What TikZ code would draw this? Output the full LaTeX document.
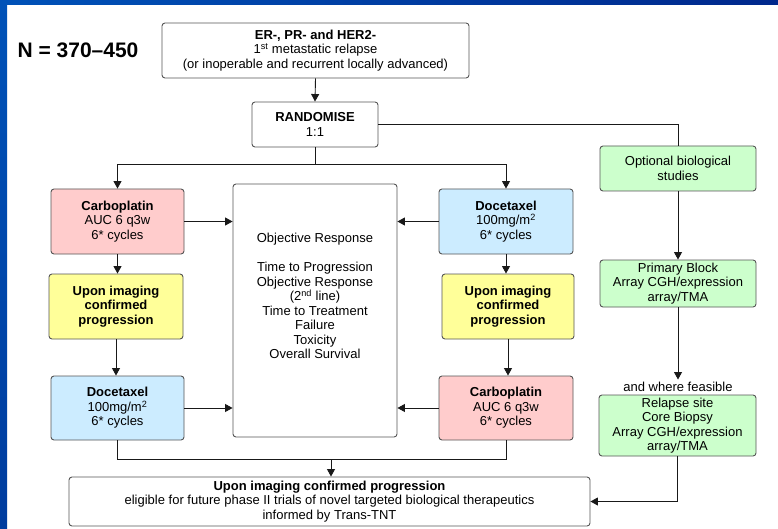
\documentclass[tikz,border=0pt]{standalone}
\usepackage{fontspec}
\setmainfont{Liberation Sans}
\usetikzlibrary{arrows.meta}
\definecolor{pinkc}{HTML}{FFCCCC}
\definecolor{bluec}{HTML}{CCECFF}
\definecolor{yellc}{HTML}{FFFF99}
\definecolor{greenc}{HTML}{CCFFCC}
\definecolor{boxline}{HTML}{555555}
\definecolor{bandA}{HTML}{0052B8}
\definecolor{bandB}{HTML}{00288C}
\definecolor{bandC}{HTML}{003C9E}
\begin{document}
\begin{tikzpicture}[x=1pt,y=-1pt,
  box/.style={draw=boxline, line width=0.9pt, rounded corners=3pt, align=center,
    inner sep=0pt, font=\fontsize{13}{14.5}\selectfont},
  txt/.style={align=center, inner sep=0pt, font=\fontsize{13}{14.5}\selectfont},
  conn/.style={draw=black!90, line width=0.9pt},
  arr/.style={-{Triangle[length=7.5pt,width=8pt]}}]
\useasboundingbox (0,0) rectangle (778,529);
\fill[white] (0,0) rectangle (778,529);
\shade[left color=bandA, right color=bandB] (0,0) rectangle (778,5);
\shade[top color=bandA, bottom color=bandC] (0,0) rectangle (7,529);

\node[inner sep=0pt, font=\fontsize{21}{24}\selectfont\bfseries] (N) at (78,50) {N = 370–450};

\node[box, fill=white, minimum width=307pt, minimum height=55pt] (top) at (315.5,50.5)
  {\textbf{ER-, PR- and HER2-}\\1\textsuperscript{st} metastatic relapse\\(or inoperable and recurrent locally advanced)};
\node[box, fill=white, minimum width=126pt, minimum height=45pt] (rand) at (315,124.5)
  {\textbf{RANDOMISE}\\1:1};

\node[box, fill=pinkc, minimum width=133pt, minimum height=65pt] (carbo1) at (117.5,221.5)
  {\textbf{Carboplatin}\\AUC 6 q3w\\6* cycles};
\node[box, fill=bluec, minimum width=134pt, minimum height=65pt] (doce1) at (506,221.5)
  {\textbf{Docetaxel}\\100mg/m\textsuperscript{2}\\6* cycles};
\node[box, fill=yellc, minimum width=134pt, minimum height=65pt] (yel1) at (116,306.5)
  {\textbf{Upon imaging}\\\textbf{confirmed}\\\textbf{progression}};
\node[box, fill=yellc, minimum width=132pt, minimum height=65pt] (yel2) at (508,306.5)
  {\textbf{Upon imaging}\\\textbf{confirmed}\\\textbf{progression}};
\node[box, fill=bluec, minimum width=133pt, minimum height=64pt] (doce2) at (117.5,408)
  {\textbf{Docetaxel}\\100mg/m\textsuperscript{2}\\6* cycles};
\node[box, fill=pinkc, minimum width=134pt, minimum height=64pt] (carbo2) at (506,408)
  {\textbf{Carboplatin}\\AUC 6 q3w\\6* cycles};

\node[box, fill=white, minimum width=164pt, minimum height=253pt] (center) at (315,310.5) {};
\node[txt] (ctext) at (315,296)
  {Objective Response\\[14.5pt]Time to Progression\\Objective Response\\(2\textsuperscript{nd} line)\\Time to Treatment\\Failure\\Toxicity\\Overall Survival};

\node[box, fill=white, minimum width=521pt, minimum height=49pt] (bottom) at (329.5,501.5)
  {\textbf{Upon imaging confirmed progression}\\eligible for future phase II trials of novel targeted biological therapeutics\\informed by Trans-TNT};

\node[box, fill=greenc, minimum width=156pt, minimum height=45pt] (opt) at (678,168.5)
  {Optional biological\\studies};
\node[box, fill=greenc, minimum width=156pt, minimum height=47pt] (prim) at (678,283.5)
  {Primary Block\\Array CGH/expression\\array/TMA};
\node[txt, inner sep=2.5pt] (feas) at (678,387) {and where feasible};
\node[box, fill=greenc, minimum width=157pt, minimum height=61pt] (relapse) at (677.5,425.5)
  {Relapse site\\Core Biopsy\\Array CGH/expression\\array/TMA};

% connectors
\coordinate (s1) at (315,164);
\coordinate (jl) at (117.5,459);
\coordinate (jr) at (506,459);
\coordinate (j) at (331,459);

\draw[conn,arr] (top.south) -- (rand.north);
\draw[conn] (rand.east) -| (opt.north);
\draw[conn] (rand.south) -- (s1);
\draw[conn,arr] (s1) -| (carbo1.north);
\draw[conn,arr] (s1) -| (doce1.north);
\draw[conn,arr] (carbo1.east) -- (carbo1.east -| center.west);
\draw[conn,arr] (doce1.west) -- (doce1.west -| center.east);
\draw[conn,arr] (carbo1.south) -- (carbo1.south |- yel1.north);
\draw[conn,arr] (doce1.south) -- (doce1.south |- yel2.north);
\draw[conn,arr] (yel1.south) -- (yel1.south |- doce2.north);
\draw[conn,arr] (yel2.south) -- (yel2.south |- carbo2.north);
\draw[conn,arr] (doce2.east) -- (doce2.east -| center.west);
\draw[conn,arr] (carbo2.west) -- (carbo2.west -| center.east);
\draw[conn] (doce2.south) -- (jl) -- (jr) -- (carbo2.south);
\draw[conn,arr] (j) -- (j |- bottom.north);
\draw[conn,arr] (opt.south) -- (prim.north);
\draw[conn,arr] (prim.south) -- (feas.north);
\draw[conn,arr] (relapse.south) |- (bottom.east);
\end{tikzpicture}
\end{document}
